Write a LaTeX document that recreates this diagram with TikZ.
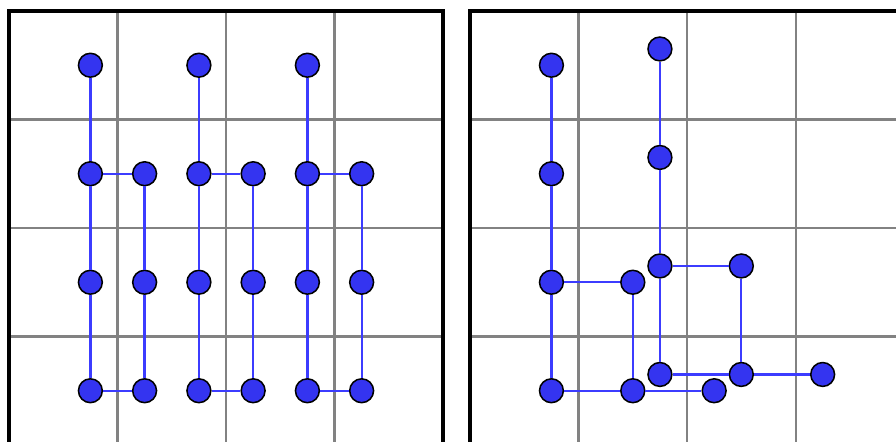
\documentclass[tikz,border=0pt]{standalone}
\usepackage{tikz}
\usetikzlibrary{positioning}
\definecolor{dotblue}{RGB}{52,52,240}
\definecolor{linkblue}{RGB}{60,60,255}
\definecolor{cellgray}{RGB}{130,130,130}

\begin{document}
\begin{tikzpicture}[
    dot/.style={circle, draw=black, line width=0.4pt, fill=dotblue, minimum size=0.22cm, inner sep=0pt},
    link/.style={linkblue, line width=0.6pt},
    cellline/.style={cellgray, line width=0.55pt},
    frame/.style={black, line width=0.85pt}
]
    \useasboundingbox (-0.083,0.028) rectangle (8.175,4.101);

    % Left panel: three regular combs
    \draw[cellline] (0,0) grid (4,4);
    \draw[frame] (0,0) rectangle (4,4);
    \foreach \i in {0,1,2} {
        \node[dot] (a\i-4) at (0.75+\i,3.5) {};
        \foreach \j in {1,2,3} {
            \node[dot] (a\i-\j) at (0.75+\i,\j-0.5) {};
            \node[dot] (b\i-\j) at (1.25+\i,\j-0.5) {};
        }
        \draw[link] (a\i-4) -- (a\i-3) -- (a\i-2) -- (a\i-1) -- (b\i-1) -- (b\i-2) -- (b\i-3) -- (a\i-3);
    }

    % Right panel: two shifted trees
    \begin{scope}[xshift=4.249cm]
        \draw[cellline] (0,0) grid (4,4);
        \draw[frame] (0,0) rectangle (4,4);
        \foreach \n/\dx/\dy in {p/0/0, q/1/0.15} {
            \node[dot] (\n1) at (0.75+\dx,3.5+\dy) {};
            \node[dot] (\n2) at (0.75+\dx,2.5+\dy) {};
            \node[dot] (\n3) at (0.75+\dx,1.5+\dy) {};
            \node[dot] (\n4) at (0.75+\dx,0.5+\dy) {};
            \node[dot] (\n5) at (1.5+\dx,1.5+\dy) {};
            \node[dot] (\n6) at (1.5+\dx,0.5+\dy) {};
            \node[dot] (\n7) at (2.25+\dx,0.5+\dy) {};
            \draw[link] (\n1) -- (\n2) -- (\n3) -- (\n4) -- (\n6) -- (\n7);
            \draw[link] (\n3) -- (\n5) -- (\n6);
        }
    \end{scope}
\end{tikzpicture}
\end{document}
